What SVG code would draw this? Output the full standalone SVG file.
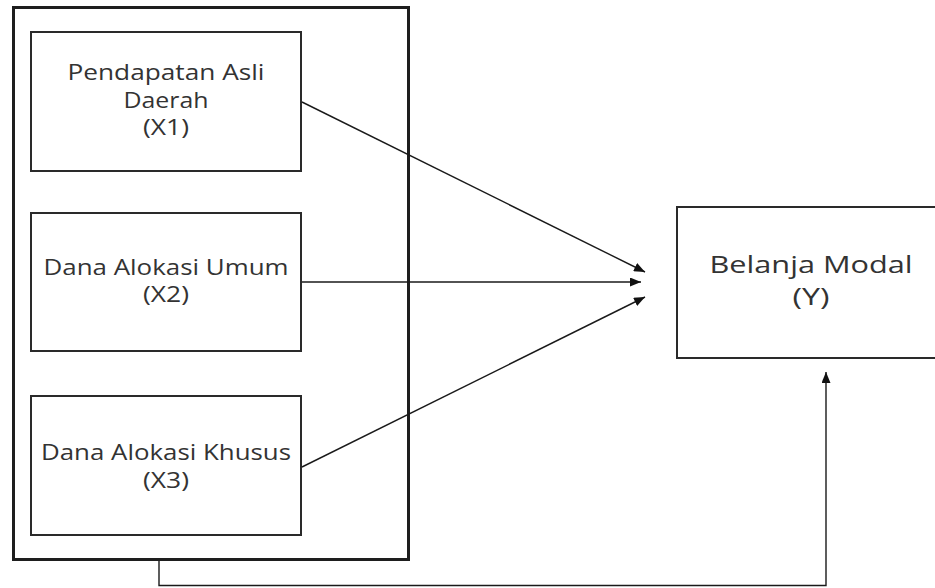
<svg xmlns="http://www.w3.org/2000/svg" width="935" height="588" viewBox="0 0 935 588">
<defs>
<marker id="ah" markerWidth="11" markerHeight="9" refX="11" refY="4.5" orient="auto" markerUnits="userSpaceOnUse">
<path d="M0,0 L11,4.5 L0,9 Z" fill="#111"/>
</marker>
<style>
.box{fill:#fff;stroke:#2a2a2a;stroke-width:2}
.outer{fill:#fff;stroke:#1e1e1e;stroke-width:3}
.lbl{font-family:"Open Sans","DejaVu Sans",sans-serif;font-size:21px;fill:#333;text-anchor:middle}
.big{font-size:23px}
.con{fill:none;stroke:#1a1a1a;stroke-width:1.4}
</style>
</defs>
<rect width="935" height="588" fill="#fff"/>
<g id="group-X">
<rect class="outer" x="13.5" y="7.5" width="395" height="552"/>
</g>
<g id="node-X1">
<rect class="box" x="31" y="32" width="270" height="139"/>
<text class="lbl" x="166" y="80" textLength="197" lengthAdjust="spacingAndGlyphs">Pendapatan Asli</text>
<text class="lbl" x="166" y="108" textLength="85" lengthAdjust="spacingAndGlyphs">Daerah</text>
<text class="lbl" x="166" y="135" textLength="46" lengthAdjust="spacingAndGlyphs">(X1)</text>
</g>
<g id="node-X2">
<rect class="box" x="31" y="213" width="270" height="138"/>
<text class="lbl" x="166" y="275" textLength="245" lengthAdjust="spacingAndGlyphs">Dana Alokasi Umum</text>
<text class="lbl" x="166" y="302" textLength="46" lengthAdjust="spacingAndGlyphs">(X2)</text>
</g>
<g id="node-X3">
<rect class="box" x="31" y="396" width="270" height="139"/>
<text class="lbl" x="166" y="460" textLength="250" lengthAdjust="spacingAndGlyphs">Dana Alokasi Khusus</text>
<text class="lbl" x="166" y="488" textLength="46" lengthAdjust="spacingAndGlyphs">(X3)</text>
</g>
<g id="node-Y">
<rect class="box" x="677" y="207" width="272" height="151"/>
<text class="lbl big" x="811" y="273" textLength="203" lengthAdjust="spacingAndGlyphs">Belanja Modal</text>
<text class="lbl big" x="811" y="305" textLength="37" lengthAdjust="spacingAndGlyphs">(Y)</text>
</g>
<g id="connectors">
<line class="con" x1="302" y1="102" x2="645" y2="272" marker-end="url(#ah)"/>
<line class="con" x1="302" y1="282" x2="641" y2="282" marker-end="url(#ah)"/>
<line class="con" x1="302" y1="467" x2="645" y2="297" marker-end="url(#ah)"/>
<polyline class="con" points="159,561 159,585.5 826,585.5 826,372" stroke-width="1.8" marker-end="url(#ah)"/>
</g>
</svg>
